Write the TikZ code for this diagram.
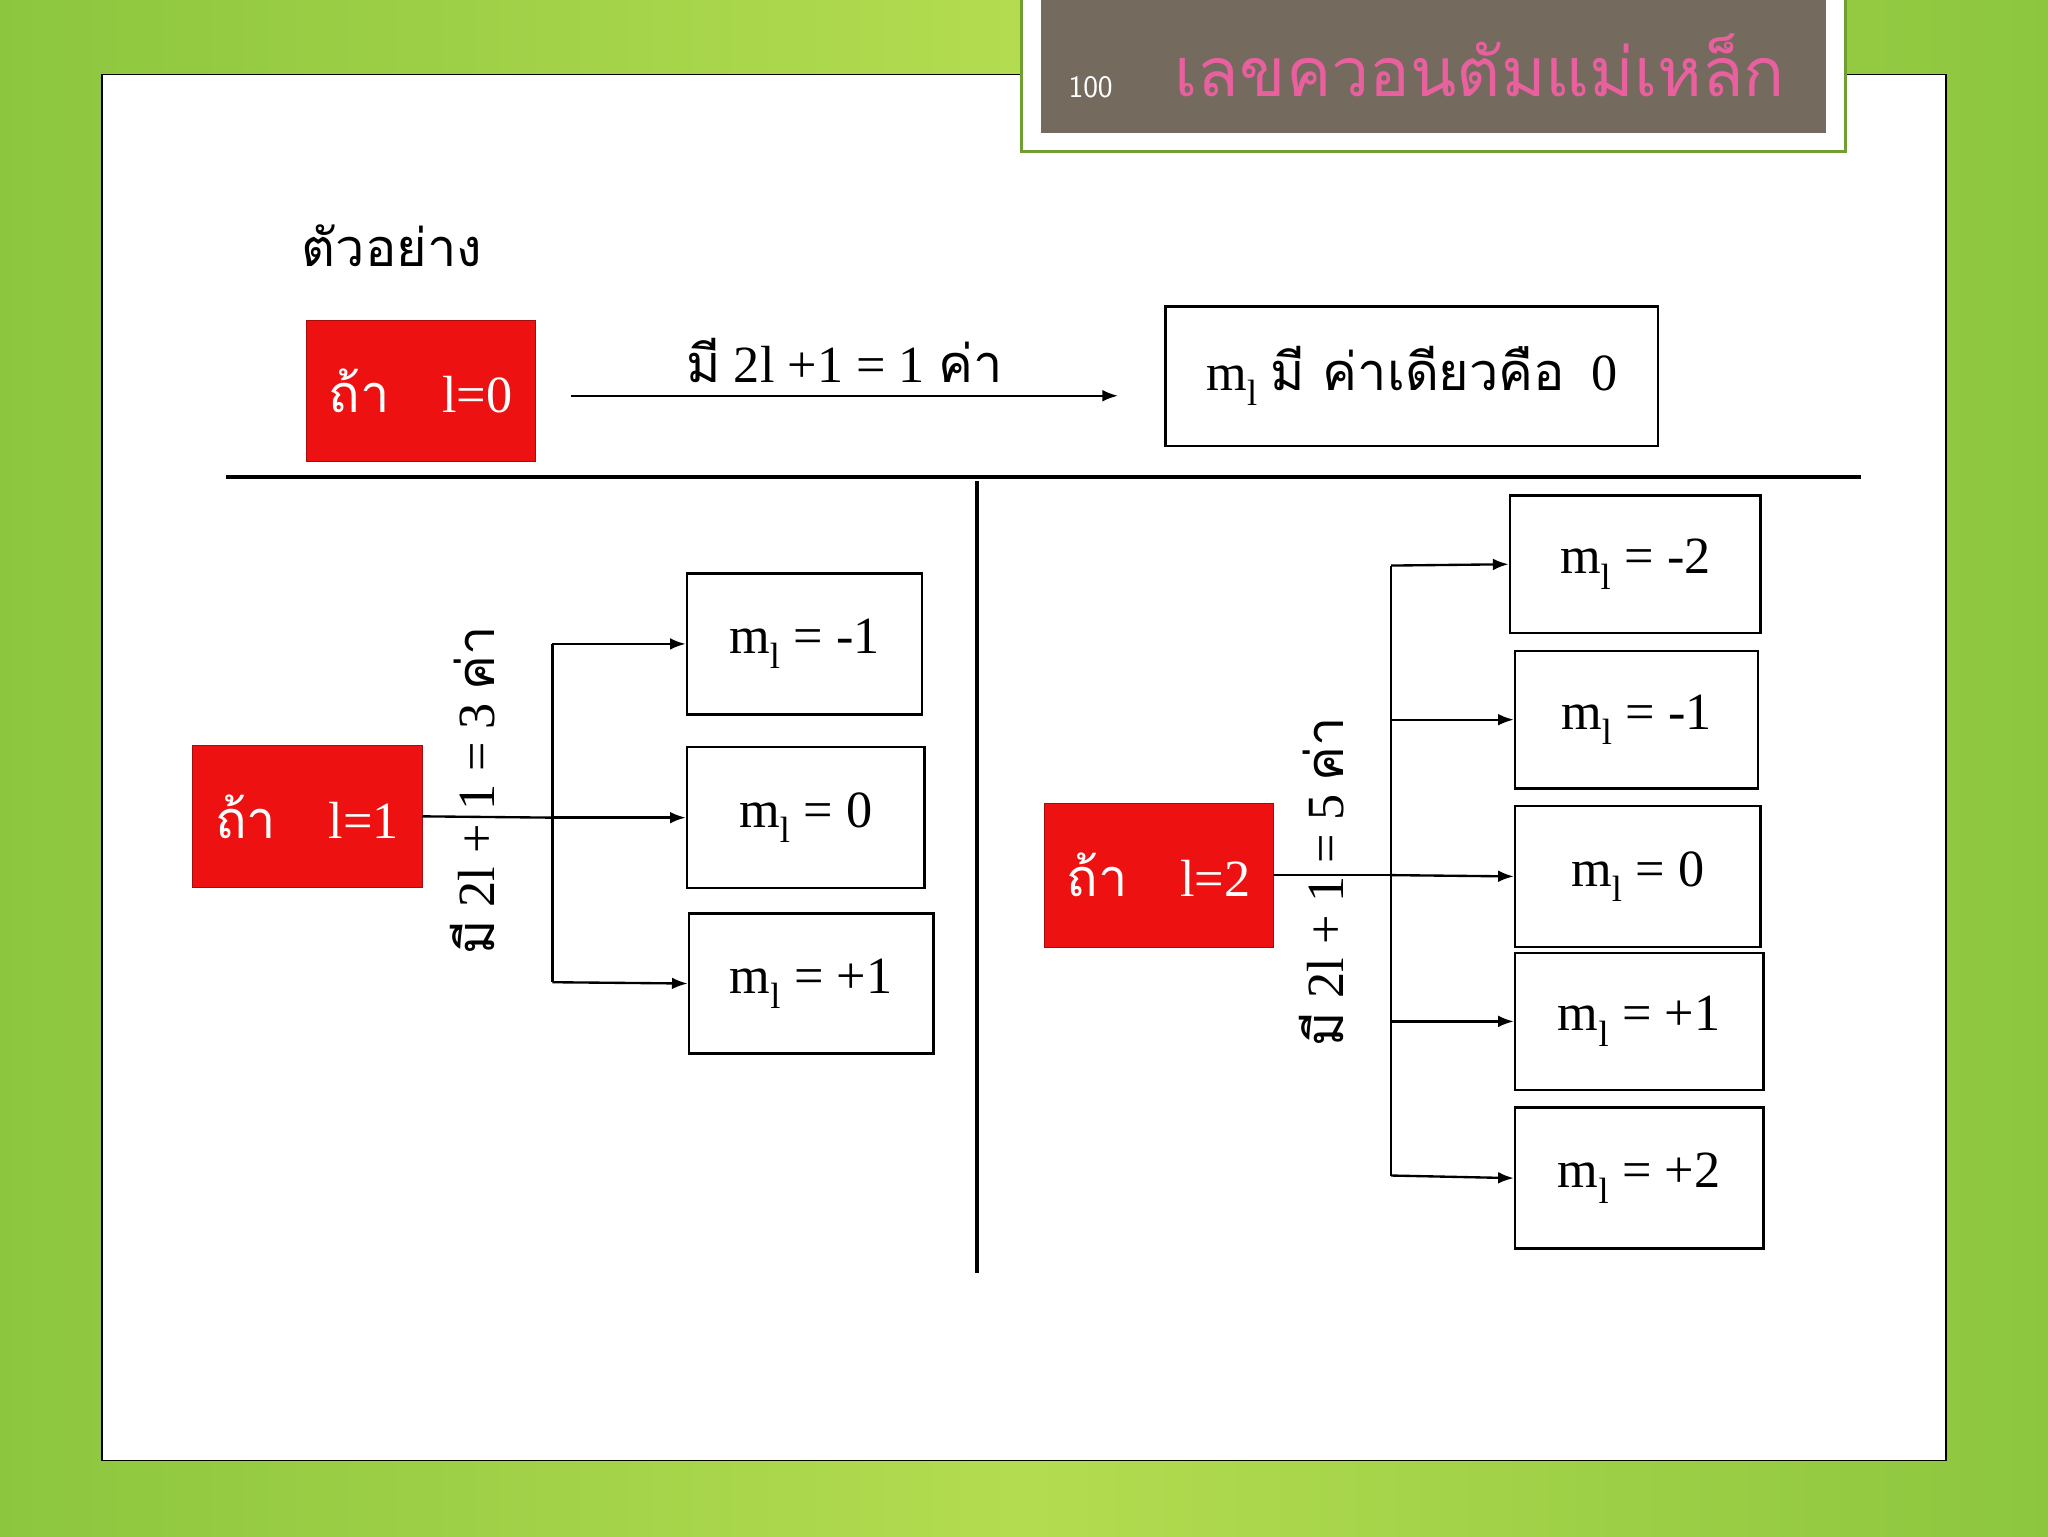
\documentclass[tikz,border=0pt]{standalone}
\usepackage{fontspec}
\setmainfont{Liberation Serif}
\newfontfamily\thai[Script=Thai]{Loma}
\usetikzlibrary{arrows.meta}
\definecolor{bgA}{HTML}{8CC63F}
\definecolor{bgB}{HTML}{B4DC50}
\definecolor{titlebg}{HTML}{756A5E}
\definecolor{titlepink}{HTML}{E8609E}
\definecolor{redbox}{HTML}{EE1111}
\tikzset{
 redb/.style={fill=redbox,draw=redbox!70!black,text=white,minimum width=175pt,minimum height=108pt,font=\fontsize{40}{44}\selectfont,inner sep=0pt},
 mbox/.style={draw,line width=2pt,inner sep=0pt,font=\fontsize{40}{44}\selectfont},
 conn/.style={line width=1.8pt,-{Latex[length=12pt,width=9pt]}},
 plain/.style={line width=1.8pt}
}
\newcommand{\ml}{m\textsubscript{\raisebox{-8pt}{\fontsize{28}{30}\selectfont l}}}
\begin{document}
\begin{tikzpicture}[x=1pt,y=-1pt]
\useasboundingbox (0,0) rectangle (1568,1176);
\shade[left color=bgA,right color=bgB] (0,0) rectangle (784,1176);
\shade[left color=bgB,right color=bgA] (784,0) rectangle (1568,1176);
\draw[fill=white,line width=1pt] (78,57) rectangle (1490,1118);
\draw[fill=white,draw=bgA!80!black,line width=2pt] (782,-2) rectangle (1413,116);
\fill[titlebg] (797,-2) rectangle (1398,102);
\node[text=white,font=\sffamily\fontsize{24}{26}\selectfont] (num) at (835,67) {100};
\node[text=titlepink,font=\thai\fontsize{52}{56}\selectfont] (title) at (1133,50) {เลขควอนตัมแม่เหล็ก};
\node[font=\thai\fontsize{40}{44}\selectfont] (ex) at (300,188) {ตัวอย่าง};
% l=0
\node[redb] (r0) at (322,299) {{\thai ถ้า}\quad l=0};
\node[mbox,minimum width=377pt,minimum height=107pt] (b0) at (1081,288) {\ml\ {\thai มี ค่าเดียวคือ}\ \ 0};
\coordinate (a0s) at (437,303);
\coordinate (a0e) at (856,303);
\draw[conn] (a0s) -- node[above=6pt,font=\fontsize{40}{44}\selectfont]{{\thai มี} 2l +1 = 1 {\thai ค่า}} (a0e);
\coordinate (h1) at (173,365); \coordinate (h2) at (1425,365);
\draw[line width=3pt] (h1) -- (h2);
\coordinate (v1) at (748,368); \coordinate (v2) at (748,975);
\draw[line width=3pt] (v1) -- (v2);
% l=1
\node[redb,minimum width=176pt,minimum height=109pt] (r1) at (235,625) {{\thai ถ้า}\quad l=1};
\node[mbox,minimum width=180pt,minimum height=108pt] (b11) at (616,493) {\ml\ = -1};
\node[mbox,minimum width=182pt,minimum height=108pt] (b12) at (617,626) {\ml\ = 0};
\node[mbox,minimum width=187pt,minimum height=107pt] (b13) at (621,753) {\ml\ = +1};
\coordinate (t1) at (423,626);
\draw[plain] (r1.east) -- (t1);
\draw[conn] (423,493) -- (b11.west);
\draw[conn] (t1) -- (b12.west);
\draw[conn] (423,752) -- (b13.west);
\draw[plain] (423,493) -- (423,752);
\node[rotate=90,font=\fontsize{40}{44}\selectfont] (lab1) at (362,605) {{\thai มี} 2l + 1 = 3 {\thai ค่า}};
% l=2
\node[redb,minimum width=175pt,minimum height=110pt] (r2) at (887,670) {{\thai ถ้า}\quad l=2};
\node[mbox,minimum width=192pt,minimum height=105pt] (c1) at (1252,432) {\ml\ = -2};
\node[mbox,minimum width=186pt,minimum height=105pt] (c2) at (1253,551) {\ml\ = -1};
\node[mbox,minimum width=188pt,minimum height=108pt] (c3) at (1254,671) {\ml\ = 0};
\node[mbox,minimum width=190pt,minimum height=105pt] (c4) at (1255,782) {\ml\ = +1};
\node[mbox,minimum width=190pt,minimum height=108pt] (c5) at (1255,902) {\ml\ = +2};
\coordinate (t2) at (1065,670);
\draw[plain] (r2.east) -- (t2);
\draw[plain] (1065,433) -- (1065,900);
\draw[conn] (1065,433) -- (c1.west);
\draw[conn] (1065,551) -- (c2.west);
\draw[conn] (t2) -- (c3.west);
\draw[conn] (1065,782) -- (c4.west);
\draw[conn] (1065,900) -- (c5.west);
\node[rotate=90,font=\fontsize{40}{44}\selectfont] (lab2) at (1012,675) {{\thai มี} 2l + 1 = 5 {\thai ค่า}};
\end{tikzpicture}
\end{document}
